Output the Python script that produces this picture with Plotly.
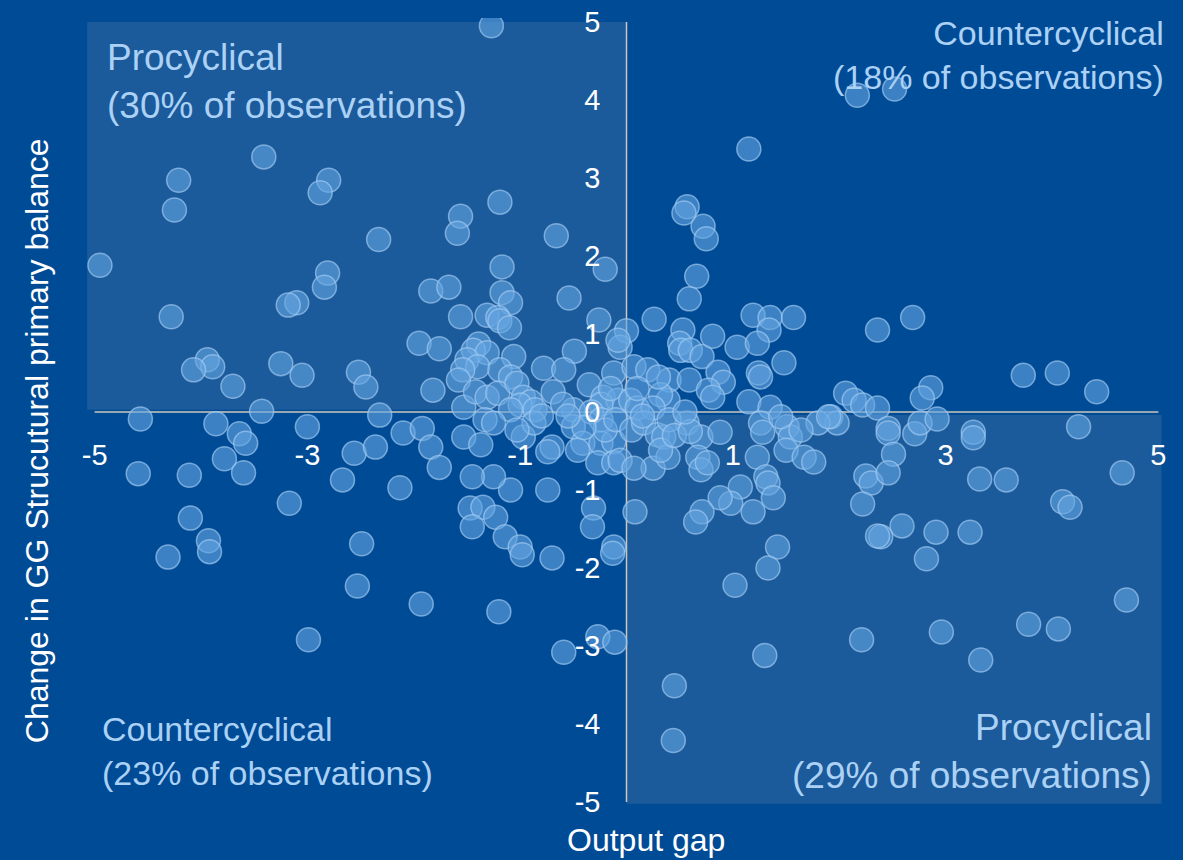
import plotly.graph_objects as go

# ---- data (output gap, change in GG structural primary balance) ----
ul_x = [-1.27,-3.41,-4.21,-2.80,-2.88,-4.25,-1.56,-1.19,-1.59,-2.33,-0.66,-4.95,-2.81,-2.84,-1.17,-0.20,-3.10,-3.18,-1.84,-1.67,
        -1.17,-1.09,-0.54,-4.28,-1.56,-1.31,-1.21,-1.19,-1.10,-0.26,0.00,-1.95,-1.76,-3.94,-3.89,-4.07,-3.70,-3.25,-3.05,-2.52,
        -2.45,-3.43,-1.82,-1.39,-1.44,-1.31,-1.50,-1.40,-1.06,-0.49,-0.06,-0.08,-0.78,-0.59,-1.54,-1.58,-1.19,-1.09,-1.53,-1.42,
        -1.31,-1.21,-1.03,-0.97,-0.90,-0.69,-0.35,-0.12,-0.22,-0.08,-0.50,-1.00,-0.86,-1.09,-0.24,-0.33,-0.60,-0.15]
ul_y = [4.95,3.27,2.97,2.97,2.81,2.59,2.51,2.69,2.29,2.21,2.26,1.88,1.78,1.60,1.86,1.83,1.40,1.37,1.55,1.60,
        1.53,1.40,1.46,1.22,1.22,1.24,1.21,1.17,1.08,1.18,1.04,0.88,0.81,0.67,0.58,0.54,0.33,0.62,0.47,0.51,
        0.32,0.01,0.28,0.87,0.79,0.76,0.67,0.58,0.71,0.78,0.83,0.92,0.56,0.54,0.54,0.41,0.54,0.45,0.06,0.26,
        0.19,0.24,0.37,0.19,0.13,0.26,0.35,0.50,0.19,0.15,0.03,0.09,0.03,0.03,0.10,0.00,0.10,0.30]

ur_x = [2.17,2.52,1.15,0.57,0.54,0.72,0.75,0.66,0.59,0.26,1.19,1.35,1.34,1.57,0.53,0.50,0.51,0.60,0.71,0.81,
        1.04,1.23,1.48,1.24,1.26,0.07,0.20,0.40,0.59,0.86,0.91,0.77,0.81,0.39,0.32,1.15,1.35,2.36,2.69,3.73,
        4.05,4.42,2.06,2.14,2.22,2.36,2.86,2.78,0.04,0.10,0.25,0.10,0.30]
ur_y = [4.06,4.14,3.37,2.63,2.55,2.38,2.22,1.74,1.45,1.19,1.24,1.21,1.05,1.21,1.05,0.88,0.79,0.79,0.71,0.97,
        0.83,0.88,0.63,0.50,0.45,0.58,0.54,0.41,0.41,0.51,0.38,0.28,0.19,0.15,0.22,0.13,0.06,1.05,1.21,0.47,
        0.50,0.26,0.24,0.15,0.09,0.05,0.31,0.18,0.15,0.05,0.05,0.30,0.45]

ll_x = [-2.10,-1.92,-1.84,-1.76,-1.53,-1.37,-1.33,-1.25,-0.97,-0.87,-1.03,-0.70,-0.74,-0.50,-0.41,-0.46,-0.24,-0.12,-0.27,-0.12,
        -0.06,-0.31,-0.32,-0.74,-1.09,-1.25,-1.45,-1.47,-1.35,-1.23,-1.45,-1.14,-1.00,-2.13,-0.12,-0.70,-4.57,-3.86,-3.64,-3.58,
        -3.00,-2.32,-3.78,-3.60,-4.59,-4.11,-2.56,-2.36,-2.67,-3.17,-4.10,-3.93,-3.92,-4.31,-2.49,-2.53,-1.93,-1.20,-0.59,-0.27,
        -0.11,-0.98,-0.13,-2.99,-0.24,-0.20,-0.10,-0.80,-0.40,-0.55]
ll_y = [-0.27,-0.21,-0.45,-0.71,-0.32,-0.42,-0.10,-0.14,-0.32,-0.14,-0.23,-0.45,-0.51,-0.19,-0.40,-0.49,-0.40,-0.38,-0.65,-0.65,
        -0.62,-1.23,-1.47,-1.00,-1.00,-0.83,-0.83,-1.23,-1.22,-1.35,-1.47,-1.60,-1.73,-0.97,-1.73,-1.87,-0.09,-0.15,-0.28,-0.40,
        -0.19,-0.04,-0.60,-0.78,-0.79,-0.81,-0.53,-0.45,-0.87,-1.17,-1.36,-1.65,-1.79,-1.86,-1.69,-2.23,-2.46,-2.56,-3.08,-2.88,
        -2.95,-1.83,-1.81,-2.92,-0.10,-0.23,-0.10,-0.05,-0.20,-0.05]

lr_x = [0.05,0.16,0.29,0.25,0.07,0.35,0.39,0.32,0.57,0.70,0.67,0.70,0.76,0.88,1.26,1.28,1.51,1.54,1.50,1.67,
        1.76,1.92,1.98,1.80,1.23,1.31,1.33,1.38,1.07,0.98,0.88,1.19,0.71,0.65,0.08,1.42,1.33,1.02,1.30,0.45,
        0.44,2.21,1.64,2.46,2.46,2.51,2.71,2.76,3.26,3.26,4.25,2.25,2.30,2.46,2.22,3.32,3.57,4.66,4.10,4.17,
        2.59,2.39,2.36,2.91,3.23,2.82,4.70,2.96,3.33,3.78,4.06,1.45,1.90,2.92,0.15,0.40,0.45,0.60,0.55]
lr_y = [-0.23,-0.14,-0.29,-0.72,-0.72,-0.32,-0.58,-0.49,-0.14,-0.32,-0.58,-0.74,-0.65,-0.26,-0.14,-0.26,-0.19,-0.32,-0.49,-0.58,
        -0.64,-0.06,-0.14,-0.14,-0.58,-0.83,-0.91,-1.10,-0.96,-1.17,-1.10,-1.28,-1.28,-1.41,-1.28,-1.73,-2.00,-2.22,-3.12,-3.51,
        -4.21,-2.92,-0.23,-0.21,-0.27,-0.54,-0.28,-0.14,-0.26,-0.33,-0.19,-0.82,-0.91,-0.78,-1.18,-0.86,-0.87,-0.78,-1.15,-1.22,
        -1.46,-1.60,-1.59,-1.54,-1.54,-1.88,-2.41,-2.82,-3.18,-2.72,-2.78,-0.06,-0.06,-0.09,-0.05,-0.10,-0.30,-0.25,0.00]

x_tick_vals = [-5, -3, -1, 1, 3, 5]
x_tick_text = ["-5", "-3", "-1", "1", "3", "5"]
y_tick_vals = [5, 4, 3, 2, 1, 0, -1, -2, -3, -4, -5]
y_tick_text = ["5", "4", "3", "2", "1", "0", "-1", "-2", "-3", "-4", "-5"]

quadrant_labels = [
    ("Procyclical<br>(30% of observations)", -4.90, 4.23, "left", 37),
    ("Countercyclical<br>(18% of observations)", 5.07, 4.58, "right", 34),
    ("Countercyclical<br>(23% of observations)", -4.95, -4.35, "left", 34),
    ("Procyclical<br>(29% of observations)", 4.96, -4.35, "right", 37),
]

x_all = ul_x + ur_x + ll_x + lr_x
y_all = ul_y + ur_y + ll_y + lr_y

BG = "#004b96"
SHADE = "#1b5a9b"
LINE = "#cdc6ba"
FONT = "Liberation Sans, Arial, sans-serif"

fig = go.Figure()

fig.add_shape(type="rect", x0=-5.07, x1=0, y0=0.03, y1=5.0, xref="x", yref="y",
              fillcolor=SHADE, line_width=0, layer="below")
fig.add_shape(type="rect", x0=0, x1=5.03, y0=-5.02, y1=-0.04, xref="x", yref="y",
              fillcolor=SHADE, line_width=0, layer="below")
fig.add_shape(type="line", x0=-5, x1=5, y0=0, y1=0, xref="x", yref="y",
              line=dict(color=LINE, width=1.5), layer="below")
fig.add_shape(type="line", x0=0, x1=0, y0=-5, y1=5, xref="x", yref="y",
              line=dict(color=LINE, width=1.5), layer="below")

fig.add_trace(go.Scatter(
    x=x_all, y=y_all, mode="markers",
    marker=dict(size=24, color="rgba(100,165,225,0.6)",
                line=dict(color="rgba(165,205,242,0.65)", width=1.5)),
    hoverinfo="x+y", showlegend=False,
))

for text, ax, ay, anchor, size in quadrant_labels:
    fig.add_annotation(x=ax, y=ay, xref="x", yref="y", text=text, showarrow=False,
                       xanchor=anchor, yanchor="middle", align=anchor,
                       font=dict(family=FONT, size=size, color="#abd1f5"))

fig.add_annotation(x=0.518, y=-0.043, xref="paper", yref="paper", text="Output gap",
                   showarrow=False, xanchor="center", yanchor="middle",
                   font=dict(family=FONT, size=32, color="white"))
fig.add_annotation(x=-0.0433, y=0.463, xref="paper", yref="paper",
                   text="Change in GG Strucutural primary balance", textangle=-90,
                   showarrow=False, xanchor="center", yanchor="middle",
                   font=dict(family=FONT, size=32, color="white"))

fig.update_layout(
    width=1183, height=860,
    margin=dict(l=84, r=14, t=18, b=54, autoexpand=False),
    paper_bgcolor=BG, plot_bgcolor=BG,
    font=dict(family=FONT, color="white"),
    xaxis=dict(range=[-5.1, 5.1], anchor="free", position=0.5, showgrid=False,
               zeroline=False, showline=False, ticks="", tickvals=x_tick_vals,
               ticktext=x_tick_text, tickfont=dict(size=29, color="white"),
               ticklabelstandoff=23, automargin=False),
    yaxis=dict(range=[-5.05, 5.05], anchor="free", position=0.5, showgrid=False,
               zeroline=False, showline=False, ticks="", tickvals=y_tick_vals,
               ticktext=y_tick_text, tickfont=dict(size=29, color="white"),
               ticklabelstandoff=26, automargin=False),
)

fig.write_html(
    "out.html",
    config={"displayModeBar": False},
    post_script="document.body.style.margin='0';document.body.style.padding='0';"
                "document.body.style.overflow='hidden';document.body.style.background='#004b96';",
)
